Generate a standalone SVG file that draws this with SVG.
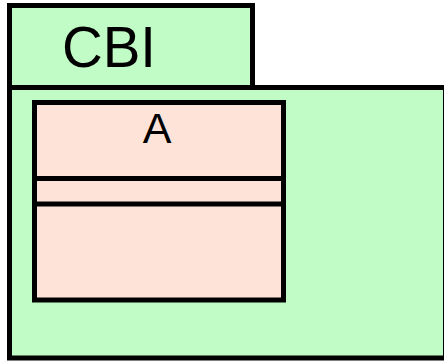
<svg xmlns="http://www.w3.org/2000/svg" width="444" height="361" viewBox="0 0 444 361">
  <style>
    .pkg { fill: #c1fbc5; stroke: #000; stroke-width: 5; }
    .cls { fill: #fee4d8; stroke: #000; stroke-width: 5; }
    .sep { stroke: #000; stroke-width: 5; }
    .lbl { font-family: "Liberation Sans", Arial, sans-serif; fill: #000; }
  </style>
  <rect width="444" height="361" fill="#fff"/>
  <!-- package CBI: tab and body -->
  <g id="package-CBI">
    <rect class="pkg" x="9.5" y="5.5" width="243" height="82"/>
    <rect class="pkg" x="9.5" y="87.5" width="436" height="270.5"/>
    <text class="lbl" x="62" y="67" font-size="58" textLength="94" lengthAdjust="spacingAndGlyphs">CBI</text>
  </g>
  <!-- class A with name, attribute and operation compartments -->
  <g id="class-A">
    <rect class="cls" x="34.5" y="102.5" width="249" height="197.5"/>
    <line class="sep" x1="34.5" y1="178.5" x2="283.5" y2="178.5"/>
    <line class="sep" x1="34.5" y1="204" x2="283.5" y2="204"/>
    <text class="lbl" x="157" y="142.5" font-size="43" text-anchor="middle">A</text>
  </g>
  <g id="connectors"/>
</svg>
